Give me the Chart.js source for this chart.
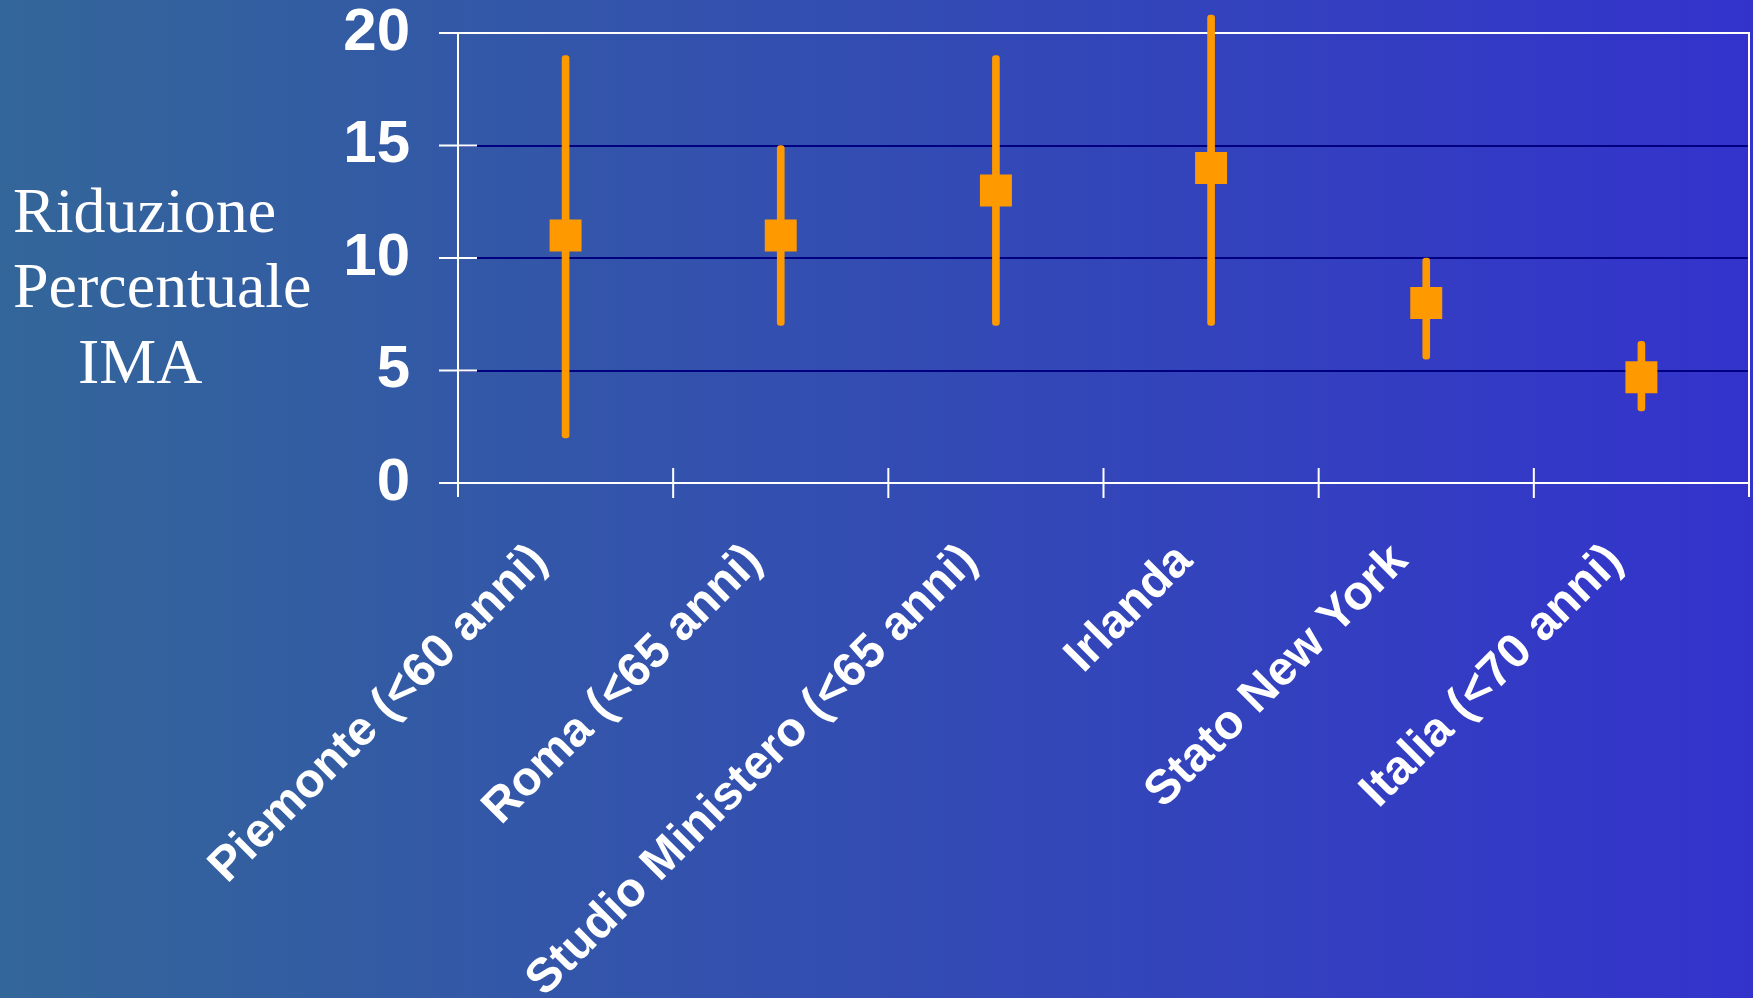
<!DOCTYPE html>
<html>
<head>
<meta charset="utf-8">
<script src="https://cdn.jsdelivr.net/npm/chart.js@4/dist/chart.umd.min.js"></script>
<style>
  html, body { margin: 0; padding: 0; background: #336699; }
  #wrap { width: 1753px; height: 998px; }
</style>
</head>
<body>
<div id="wrap"><canvas id="c" width="1753" height="998"></canvas></div>
<script>
const categories = ['Piemonte (<60 anni)', 'Roma (<65 anni)', 'Studio Ministero (<65 anni)', 'Irlanda', 'Stato New York', 'Italia (<70 anni)'];
const estimates = [11, 11, 13, 14, 8, 4.7];
const lowerBounds = [2, 7, 7, 7, 5.5, 3.2];
const upperBounds = [19, 15, 19, 20.8, 10, 6.3];
const yTicks = [0, 5, 10, 15, 20];
const yTitleLines = ['Riduzione', 'Percentuale', 'IMA'];

const ORANGE = '#FF9900';
const WHITE = '#FFFFFF';
const NAVY = '#000080';

const backgroundPlugin = {
  id: 'bg',
  beforeDraw(chart) {
    const ctx = chart.ctx;
    const g = ctx.createLinearGradient(0, 0, chart.width, 0);
    g.addColorStop(0, '#336699');
    g.addColorStop(1, '#3333CC');
    ctx.save();
    ctx.fillStyle = g;
    ctx.fillRect(0, 0, chart.width, chart.height);
    ctx.restore();
  }
};

const framePlugin = {
  id: 'frame',
  beforeDatasetsDraw(chart) {
    const ctx = chart.ctx;
    const a = chart.chartArea;
    const x = chart.scales.x, y = chart.scales.y;
    ctx.save();
    ctx.strokeStyle = WHITE;
    ctx.lineWidth = 2;
    ctx.beginPath();
    ctx.moveTo(a.left - 19, a.top); ctx.lineTo(a.right, a.top); ctx.lineTo(a.right, a.bottom + 14);
    ctx.moveTo(a.left, a.top); ctx.lineTo(a.left, a.bottom + 14);
    yTicks.forEach(v => {
      const py = y.getPixelForValue(v);
      ctx.moveTo(a.left - 19, py); ctx.lineTo(a.left + 19, py);
    });
    for (let i = 0; i < categories.length - 1; i++) {
      const px = (x.getPixelForValue(i) + x.getPixelForValue(i + 1)) / 2;
      ctx.moveTo(px, a.bottom - 15); ctx.lineTo(px, a.bottom + 15);
    }
    ctx.stroke();
    ctx.restore();
  }
};

const yTitlePlugin = {
  id: 'ytitle',
  afterDraw(chart) {
    const ctx = chart.ctx;
    ctx.save();
    ctx.fillStyle = WHITE;
    ctx.font = '64px "Liberation Serif", "Times New Roman", serif';
    ctx.textBaseline = 'alphabetic';
    ctx.textAlign = 'left';
    const lefts = [13, 13, 78];
    const bases = [232, 307, 383];
    yTitleLines.forEach((t, i) => ctx.fillText(t, lefts[i], bases[i]));
    ctx.restore();
  }
};

new Chart(document.getElementById('c'), {
  data: {
    labels: categories,
    datasets: [
      {
        type: 'line',
        data: estimates,
        showLine: false,
        pointStyle: 'rect',
        pointRadius: 22.6,
        pointHoverRadius: 22.6,
        pointBackgroundColor: ORANGE,
        pointBorderWidth: 0,
        borderColor: ORANGE,
        order: 0,
        clip: false
      },
      {
        type: 'bar',
        data: lowerBounds.map((l, i) => [l, upperBounds[i]]),
        backgroundColor: ORANGE,
        barThickness: 7,
        borderRadius: 3,
        borderSkipped: false,
        order: 1,
        clip: false
      }
    ]
  },
  options: {
    responsive: false,
    devicePixelRatio: 1,
    animation: false,
    layout: { autoPadding: false, padding: { top: 33, right: 4, bottom: 0, left: 0 } },
    plugins: { legend: { display: false }, tooltip: { enabled: false } },
    scales: {
      x: {
        type: 'category',
        offset: true,
        grid: { display: false, drawTicks: false },
        border: { display: true, color: WHITE, width: 2 },
        ticks: {
          color: WHITE,
          autoSkip: false,
          minRotation: 45,
          maxRotation: 45,
          padding: 50,
          labelOffset: -26,
          font: { family: '"Liberation Sans", Arial, sans-serif', size: 48, weight: 'bold', lineHeight: 1.2 }
        },
        afterFit(scale) { scale.height = 515; }
      },
      y: {
        min: 0,
        max: 20,
        afterBuildTicks(scale) { scale.ticks = yTicks.map(v => ({ value: v })); },
        grid: {
          drawTicks: false,
          lineWidth: 2,
          color: c => (c.tick && (c.tick.value === 20 || c.tick.value === 0)) ? WHITE : NAVY
        },
        border: { display: true, color: WHITE, width: 2 },
        ticks: {
          color: WHITE,
          padding: 48,
          font: { family: '"Liberation Sans", Arial, sans-serif', size: 60, weight: 'bold', lineHeight: 1.0 }
        },
        afterFit(scale) { scale.width = 458; scale.paddingTop = 0; scale.paddingBottom = 0; }
      }
    }
  },
  plugins: [backgroundPlugin, framePlugin, yTitlePlugin]
});
</script>
</body>
</html>
